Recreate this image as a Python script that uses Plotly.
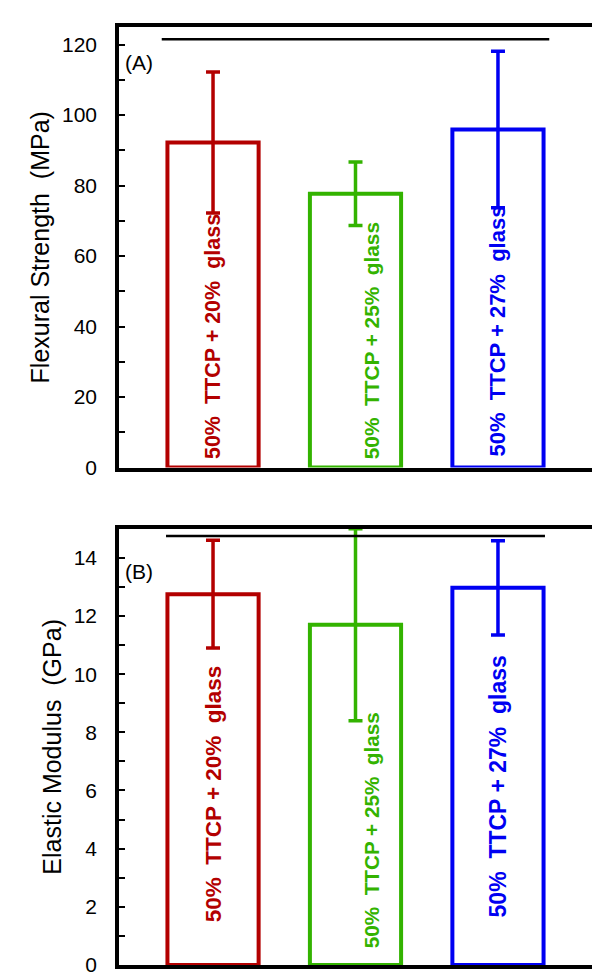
import plotly.graph_objects as go

# ---------------- data ----------------
categories = ["50% TTCP + 20% glass", "50% TTCP + 25% glass", "50% TTCP + 27% glass"]
strength = [92.2, 77.7, 95.9]          # MPa
strength_err = [20.0, 9.0, 22.2]
modulus = [12.75, 11.7, 12.97]         # GPa
modulus_err = [1.85, 3.3, 1.62]
strength_sig = 121.5                   # level of the black bracket line, panel A
modulus_sig = 14.75                    # level of the black bracket line, panel B
strength_ticks = [0, 20, 40, 60, 80, 100, 120]
modulus_ticks = [0, 2, 4, 6, 8, 10, 12, 14]

colors = ["#B30000", "#33B300", "#0000F2"]
FONT = "Liberation Sans, Arial, sans-serif"

xpos = list(range(len(categories)))
fig = go.Figure()

panels = [
    ("x", "y", strength, strength_err),
    ("x2", "y2", modulus, modulus_err),
]
for xa, ya, vals, errs in panels:
    for i, cat in enumerate(categories):
        fig.add_trace(go.Bar(
            x=[xpos[i]], y=[vals[i]], width=0.64, xaxis=xa, yaxis=ya,
            name=cat, showlegend=False,
            marker=dict(color="white", line=dict(color=colors[i], width=4)),
            error_y=dict(type="data", array=[errs[i]], visible=True,
                         thickness=3.5, width=7, color=colors[i]),
        ))

# bracket lines
fig.add_shape(type="line", xref="x", yref="y", x0=-0.36, x1=2.36,
              y0=strength_sig, y1=strength_sig, line=dict(color="black", width=2.5))
fig.add_shape(type="line", xref="x2", yref="y2", x0=-0.33, x1=2.33,
              y0=modulus_sig, y1=modulus_sig, line=dict(color="black", width=2.5))

# rotated labels inside bars
label_text = [c.replace("% ", "%\u00a0\u00a0") for c in categories]
label_dx = [0.0, 0.11, 0.0]
top_label_y = [2.0, 2.0, 3.0]
top_label_size = [21.5, 20.8, 22]
bot_label_y = [1.42, 0.55, 1.6]
bot_label_size = [22.5, 20.7, 23]
for i in range(len(categories)):
    fig.add_annotation(x=xpos[i] + label_dx[i], y=top_label_y[i], xref="x", yref="y",
                       text=label_text[i], textangle=-90, showarrow=False,
                       xanchor="center", yanchor="bottom", borderpad=0,
                       font=dict(family=FONT, size=top_label_size[i], color=colors[i], weight="bold"))
    fig.add_annotation(x=xpos[i] + label_dx[i], y=bot_label_y[i], xref="x2", yref="y2",
                       text=label_text[i], textangle=-90, showarrow=False,
                       xanchor="center", yanchor="bottom", borderpad=0,
                       font=dict(family=FONT, size=bot_label_size[i], color=colors[i], weight="bold"))

# panel letters
fig.add_annotation(x=0.008, y=0.919, xref="x domain", yref="y domain", text="(A)",
                   showarrow=False, xanchor="left", yanchor="middle",
                   font=dict(family=FONT, size=21, color="black"))
fig.add_annotation(x=0.008, y=0.9025, xref="x2 domain", yref="y2 domain", text="(B)",
                   showarrow=False, xanchor="left", yanchor="middle",
                   font=dict(family=FONT, size=21, color="black"))

xcommon = dict(range=[-0.66, 2.66], showline=True, linecolor="black", linewidth=3.5,
               mirror=True, showticklabels=False, ticks="", showgrid=False, zeroline=False)
ycommon = dict(showline=True, linecolor="black", linewidth=3.5, mirror=True,
               ticks="inside", ticklen=6, tickwidth=2, tickcolor="black",
               showgrid=False, zeroline=False, ticklabelstandoff=14,
               tickfont=dict(family=FONT, size=21, color="black"))

fig.update_layout(
    width=600, height=980,
    margin=dict(l=111, r=15, t=19, b=20),
    paper_bgcolor="white", plot_bgcolor="white",
    barmode="overlay",
    xaxis=dict(domain=[0, 1], anchor="y", **xcommon),
    xaxis2=dict(domain=[0, 1], anchor="y2", **xcommon),
    yaxis=dict(domain=[0.5303, 1], anchor="x", range=[0, 125],
               tickvals=strength_ticks,
               minor=dict(dtick=10, ticks="inside", ticklen=6, tickwidth=2, tickcolor="black"),
               title=dict(text="Flexural Strength\u00a0\u00a0(MPa)", standoff=6,
                          font=dict(family=FONT, size=25, color="black")),
               **ycommon),
    yaxis2=dict(domain=[0, 0.4651], anchor="x2", range=[0, 15],
                tickvals=modulus_ticks,
                minor=dict(dtick=1, ticks="inside", ticklen=6, tickwidth=2, tickcolor="black"),
                title=dict(text="Elastic Modulus\u00a0\u00a0(GPa)", standoff=6,
                           font=dict(family=FONT, size=25, color="black")),
                **ycommon),
)

fig.write_html("out.html")
